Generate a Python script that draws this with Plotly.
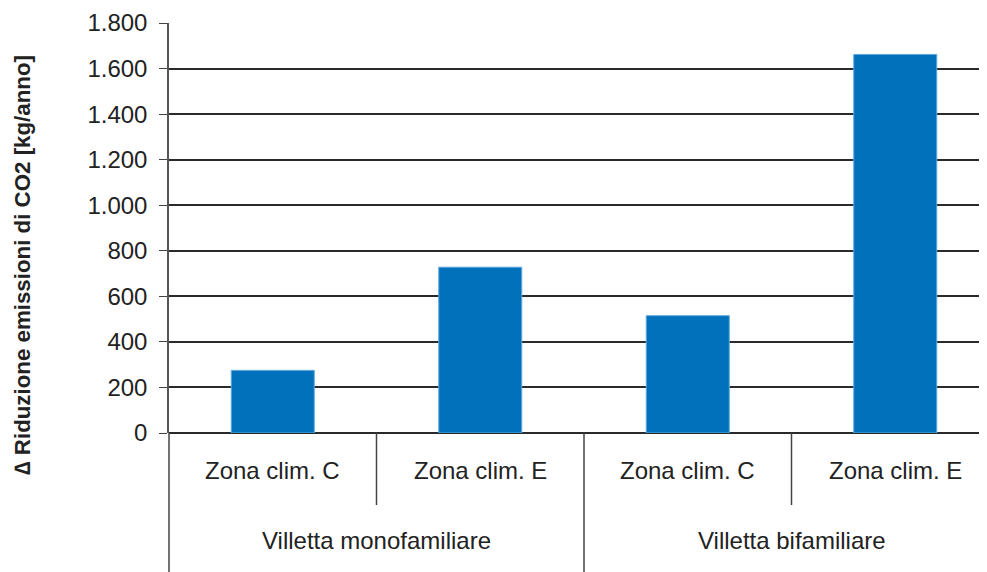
import plotly.graph_objects as go

zone = ['Zona clim. C', 'Zona clim. E', 'Zona clim. C', 'Zona clim. E']
tipologia = ['Villetta monofamiliare', 'Villetta bifamiliare']
riduzione = [275, 728, 515, 1662]

ytitle = '\u2206 Riduzione emissioni di CO2 [kg/anno]'
font = 'Liberation Sans, Arial, sans-serif'

# page body has an 8px margin, so the figure is shifted by 8px
W, H = 987, 572
ml, mt, ph = 161, 15, 410
mb = H - mt - ph
cat_px = 207.5
xmin = -0.5
xmax = xmin + (W - ml) / cat_px

pos = list(range(len(zone)))

fig = go.Figure()
fig.add_trace(go.Bar(x=pos, y=riduzione, width=0.4,
                     marker=dict(color='#0071BA', line=dict(color='#5FA8DD', width=1)),
                     showlegend=False))

def px(v):
    return (v - xmin) / (xmax - xmin)

shapes = []
for i in range(len(zone) + 1):
    b = i - 0.5
    if b > xmax:
        continue
    full = i % 2 == 0
    y1 = -mb / ph if full else -72 / ph
    shapes.append(dict(type='line', xref='paper', yref='paper', x0=px(b), x1=px(b),
                       y0=0, y1=y1, line=dict(color='#444', width=1.5)))

annotations = []
for i, z in enumerate(zone):
    annotations.append(dict(x=i, y=-37 / ph, xref='x', yref='paper', text=z, showarrow=False,
                            yanchor='middle', font=dict(size=24, color='#222', family=font)))
for j, t in enumerate(tipologia):
    annotations.append(dict(x=2 * j + 0.5, y=-107 / ph, xref='x', yref='paper', text=t,
                            showarrow=False, yanchor='middle',
                            font=dict(size=24, color='#222', family=font)))
annotations.append(dict(x=0, xshift=-147, xanchor='center', y=(ph - (257 - mt)) / ph,
                        xref='paper', yref='paper', yanchor='middle',
                        text='<b>' + ytitle + '</b>', textangle=-90, showarrow=False,
                        font=dict(size=22.3, color='#222', family=font)))

fig.update_layout(
    width=W, height=H,
    margin=dict(l=ml, r=0, t=mt, b=mb),
    plot_bgcolor='white', paper_bgcolor='white',
    separators=',.',
    shapes=shapes, annotations=annotations,
    font=dict(family=font, color='#222'),
)
fig.update_xaxes(range=[xmin, xmax], showticklabels=False, showgrid=False,
                 zeroline=False, showline=False, ticks='')
fig.update_yaxes(range=[0, 1800], dtick=200, tickformat=',d',
                 showgrid=True, gridcolor='#2a2a2a', gridwidth=1.5,
                 zeroline=True, zerolinecolor='#2a2a2a', zerolinewidth=1.6,
                 showline=True, linecolor='#555', linewidth=1.5,
                 ticks='outside', ticklen=8, tickcolor='#444', tickwidth=1.3,
                 ticklabelstandoff=7,
                 tickfont=dict(size=24, color='#222', family=font))

fig.write_html('out.html')
